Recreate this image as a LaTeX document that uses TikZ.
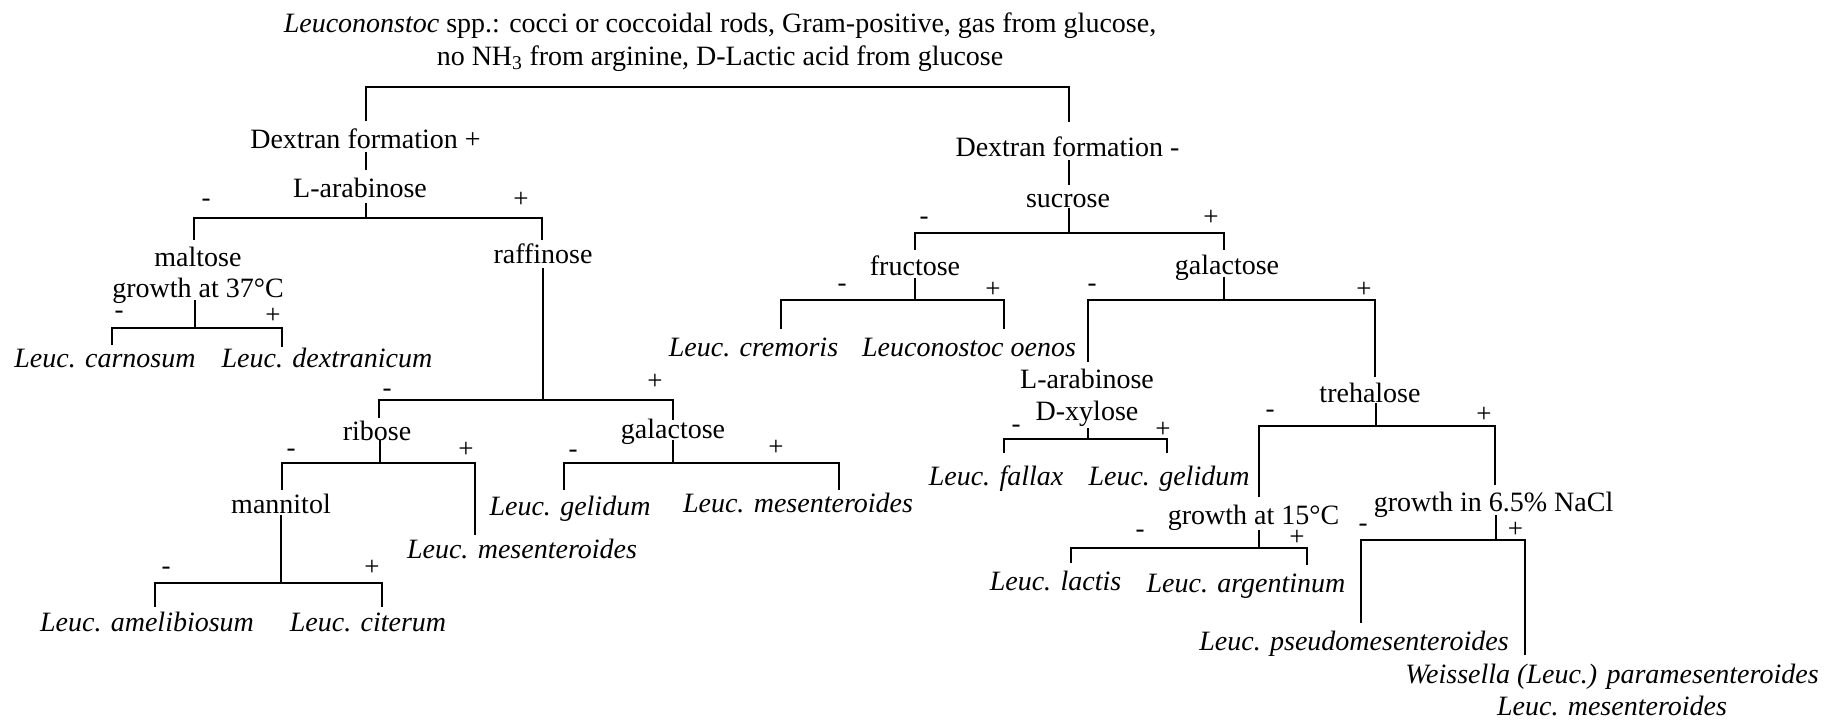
\documentclass[tikz,border=0pt]{standalone}
\usepackage{fontspec}
\setmainfont{Liberation Serif}
\begin{document}
\begin{tikzpicture}[x=1pt,y=-1pt,
  lab/.style={anchor=base, inner sep=0pt, font=\fontsize{28}{32}\selectfont},
  sp/.style={anchor=base, inner sep=0pt, font=\fontsize{28}{32}\selectfont\itshape},
  sgn/.style={anchor=center, inner sep=0pt, font=\fontsize{27}{30}\selectfont},
  conn/.style={line width=2pt}]
\useasboundingbox (0,0) rectangle (1835,721);
% ---------- text nodes ----------
\node[lab] (root) at (720,65) {\fontsize{28}{33}\selectfont\begin{tabular}[b]{@{}c@{}}\textit{Leucononstoc} spp.: cocci or coccoidal rods, Gram-positive, gas from glucose,\\ no NH\textsubscript{3} from arginine, D-Lactic acid from glucose\end{tabular}};
\node[lab] (dplus) at (365.5,148) {Dextran formation +};
\node[lab] (dminus) at (1067.5,156) {Dextran formation -};
\node[lab] (lara) at (360,197) {L-arabinose};
\node[lab] (sucr) at (1068,207) {sucrose};
\node[lab] (malt) at (198,297) {\fontsize{28}{31}\selectfont\begin{tabular}[b]{@{}c@{}}maltose\\ growth at 37°C\end{tabular}};
\node[lab] (raff) at (543,263) {raffinose};
\node[sp] (carn) at (105,367) {Leuc. carnosum};
\node[sp] (dext) at (327,367) {Leuc. dextranicum};
\node[lab] (ribo) at (377,440) {ribose};
\node[lab] (gal1) at (673,438) {galactose};
\node[lab] (mann) at (281,513) {mannitol};
\node[sp] (mes1) at (522,558) {Leuc. mesenteroides};
\node[sp] (geli1) at (570,515) {Leuc. gelidum};
\node[sp] (mes2) at (798,512) {Leuc. mesenteroides};
\node[sp] (amel) at (147,631) {Leuc. amelibiosum};
\node[sp] (cite) at (368,631) {Leuc. citerum};
\node[lab] (fruc) at (915,275) {fructose};
\node[lab] (gal2) at (1227,274) {galactose};
\node[sp] (crem) at (753.5,356) {Leuc. cremoris};
\node[sp] (oeno) at (969,356) {Leuconostoc oenos};
\node[lab] (laxy) at (1087,420) {\begin{tabular}[b]{@{}c@{}}L-arabinose\\ D-xylose\end{tabular}};
\node[sp] (fall) at (996,485) {Leuc. fallax};
\node[sp] (geli2) at (1169,485) {Leuc. gelidum};
\node[lab] (treh) at (1370,402) {trehalose};
\node[lab] (gfift) at (1253.5,524) {growth at 15°C};
\node[sp] (lact) at (1055.5,590) {Leuc. lactis};
\node[sp] (arge) at (1246,592) {Leuc. argentinum};
\node[lab] (nacl) at (1493.5,511) {growth in 6.5\% NaCl};
\node[sp] (pseu) at (1354,650) {Leuc. pseudomesenteroides};
\node[sp] (weis) at (1612,715) {\begin{tabular}[b]{@{}c@{}}Weissella (Leuc.) paramesenteroides\\ Leuc. mesenteroides\end{tabular}};
% ---------- signs ----------
\node[sgn] (la-m) at (206,203) {-};   \node[sgn] (la-p) at (521,200) {+};
\node[sgn] (su-m) at (924,221) {-};   \node[sgn] (su-p) at (1211,218) {+};
\node[sgn] (ma-m) at (119,315) {-};   \node[sgn] (ma-p) at (273,316) {+};
\node[sgn] (ra-m) at (387,393) {-};   \node[sgn] (ra-p) at (655,382) {+};
\node[sgn] (ri-m) at (291,453) {-};   \node[sgn] (ri-p) at (466,450) {+};
\node[sgn] (ga-m) at (573,454) {-};   \node[sgn] (ga-p) at (776,448) {+};
\node[sgn] (mn-m) at (166,571) {-};   \node[sgn] (mn-p) at (372,568) {+};
\node[sgn] (fr-m) at (842,288) {-};   \node[sgn] (fr-p) at (993,290) {+};
\node[sgn] (gb-m) at (1092,288) {-};  \node[sgn] (gb-p) at (1364,290) {+};
\node[sgn] (lx-m) at (1016,429) {-};  \node[sgn] (lx-p) at (1163,430) {+};
\node[sgn] (tr-m) at (1270,414) {-};  \node[sgn] (tr-p) at (1484,415) {+};
\node[sgn] (gf-m) at (1140,534) {-};  \node[sgn] (gf-p) at (1297,538) {+};
\node[sgn] (na-m) at (1363,528) {-};  \node[sgn] (na-p) at (1515.5,530) {+};
% ---------- connector end points ----------
\coordinate (r-l) at (366,121); \coordinate (r-c) at (720,87); \coordinate (r-r) at (1069,122);
\coordinate (dp-a) at (366,152); \coordinate (dp-b) at (366,170);
\coordinate (dm-a) at (1069,160); \coordinate (dm-b) at (1069,185);
\coordinate (la-t) at (366,203); \coordinate (la-c) at (366,218); \coordinate (la-l) at (194,240); \coordinate (la-r) at (542,240);
\coordinate (ma-t) at (194.5,300); \coordinate (ma-c) at (194.5,328); \coordinate (ma-l) at (112,345); \coordinate (ma-r) at (281.5,347);
\coordinate (ra-t) at (543,268); \coordinate (ra-c) at (543,400); \coordinate (ra-l) at (379,418); \coordinate (ra-r) at (673,420);
\coordinate (ri-t) at (380,440); \coordinate (ri-c) at (380,463); \coordinate (ri-l) at (281.5,490); \coordinate (ri-r) at (474.5,535);
\coordinate (ga-t) at (673,440); \coordinate (ga-c) at (673,463); \coordinate (ga-l) at (563.5,490); \coordinate (ga-r) at (839,490);
\coordinate (mn-t) at (281,515); \coordinate (mn-c) at (281,583); \coordinate (mn-l) at (155,607); \coordinate (mn-r) at (381.6,607);
\coordinate (su-t) at (1069,208); \coordinate (su-c) at (1069,233); \coordinate (su-l) at (915,250); \coordinate (su-r) at (1224,250);
\coordinate (fr-t) at (915,278); \coordinate (fr-c) at (915,300); \coordinate (fr-l) at (781,329); \coordinate (fr-r) at (1004,329);
\coordinate (gb-t) at (1224,277); \coordinate (gb-c) at (1224,300); \coordinate (gb-l) at (1088,362); \coordinate (gb-r) at (1375,377);
\coordinate (lx-t) at (1088,428); \coordinate (lx-c) at (1088,439); \coordinate (lx-l) at (1004,453); \coordinate (lx-r) at (1167,453);
\coordinate (tr-t) at (1376,403); \coordinate (tr-c) at (1376,426); \coordinate (tr-l) at (1258.5,497); \coordinate (tr-r) at (1495,485);
\coordinate (gf-t) at (1259,530); \coordinate (gf-c) at (1259,548); \coordinate (gf-l) at (1070.5,563); \coordinate (gf-r) at (1307,565);
\coordinate (na-t) at (1496,515); \coordinate (na-c) at (1496,540); \coordinate (na-l) at (1360.5,623); \coordinate (na-r) at (1525,655);
% ---------- connectors ----------
\draw[conn] (r-l) |- (r-c) -| (r-r);
\draw[conn] (dp-a) -- (dp-b);
\draw[conn] (dm-a) -- (dm-b);
\foreach \s in {la,ma,ra,ri,ga,mn,su,fr,gb,lx,tr,gf,na}{
  \draw[conn] (\s-t) -- (\s-c);
  \draw[conn] (\s-l) |- (\s-c) -| (\s-r);
}
\end{tikzpicture}
\end{document}
